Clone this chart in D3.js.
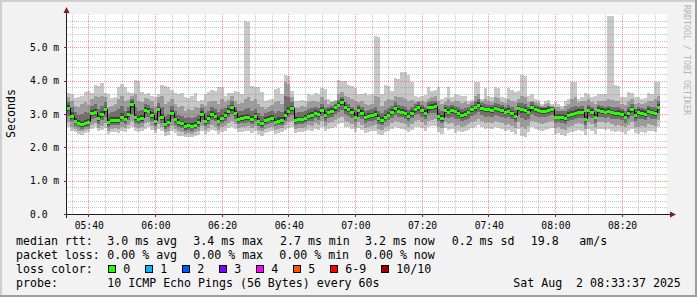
<!DOCTYPE html>
<html>
<head>
<meta charset="utf-8">
<script src="https://cdn.jsdelivr.net/npm/d3@7"></script>
<style>
  body { margin: 0; background: #f2f2f2; }
  svg { display: block; font-family: "DejaVu Sans Mono", monospace; }
  text { white-space: pre; }
</style>
</head>
<body>
<svg id="chart"></svg>
<script>
// one sample per minute, 10 pings each, sorted; ms
const rttMedian = [
  3.19,2.95,2.80,2.74,2.70,2.73,2.76,3.04,3.07,2.87, 3.00,3.15,2.75,2.82,2.82,2.82,2.92,2.85,2.99,3.30,
  2.90,2.85,2.88,3.12,3.10,2.97,2.79,3.14,2.90,2.69, 2.75,3.04,2.84,2.75,2.72,2.64,2.66,2.65,2.67,2.75,
  3.00,2.79,2.87,3.00,2.94,2.80,2.88,2.97,3.09,3.20, 3.04,2.85,2.88,2.90,2.90,2.85,2.94,2.80,2.72,2.82,
  2.86,2.89,2.77,2.80,2.82,2.97,3.10,3.17,2.82,2.84, 2.84,2.89,2.95,2.97,3.04,2.99,3.12,2.97,3.05,3.10,
  3.20,3.27,3.37,3.20,3.14,3.05,2.92,3.12,3.04,2.90, 2.94,2.96,2.99,2.87,2.82,2.92,2.98,3.07,3.17,3.10,
  3.07,3.04,2.94,3.04,3.14,3.20,3.12,3.04,3.20,3.22, 3.24,2.95,2.89,3.12,3.07,3.12,3.08,3.04,2.97,2.99,
  3.05,3.14,3.20,3.28,3.17,3.14,3.14,3.12,3.17,3.14, 3.12,3.07,3.10,3.02,2.94,3.17,3.14,3.12,3.07,3.20,
  3.14,3.12,3.10,3.10,3.12,3.14,2.92,2.92,2.92,2.89, 2.97,3.00,3.04,3.07,3.07,2.84,3.12,3.07,2.92,3.12,
  3.10,3.07,3.09,3.05,3.02,3.04,3.00,2.92,3.04,3.14, 2.97,3.07,3.04,3.00,3.09,3.05,3.02,3.22
];
const rttMax = [
  3.63,3.60,3.48,3.50,3.55,3.65,3.70,3.62,3.87,3.85, 3.93,3.63,3.60,3.48,3.50,3.82,3.90,3.80,3.65,3.62,
  4.02,4.00,3.65,3.60,3.62,3.55,3.50,3.60,3.87,3.85, 3.80,3.72,3.63,3.60,3.62,3.50,3.48,3.55,3.63,3.40,
  3.42,3.60,3.65,3.72,3.70,3.82,3.80,3.55,3.62,3.63, 3.70,3.65,3.60,5.80,5.75,3.85,3.82,3.80,3.65,3.40,
  3.42,3.45,3.75,3.77,3.60,4.17,4.15,3.70,3.40,3.38, 3.42,3.40,3.60,3.58,3.62,3.60,3.77,3.75,3.45,3.40,
  3.42,4.02,4.00,3.98,3.87,3.85,3.77,3.60,3.60,3.62, 3.58,3.60,5.34,5.30,3.60,3.87,3.85,3.70,4.07,4.05,
  4.27,4.25,4.17,3.97,3.53,3.50,3.55,3.58,3.80,3.70, 3.72,3.80,3.45,3.50,3.80,3.50,3.60,3.58,3.53,3.55,
  3.40,3.42,3.97,3.95,3.45,3.77,3.55,3.52,3.80,3.78, 3.50,3.48,3.77,3.72,3.65,3.70,4.17,4.15,3.55,3.60,
  3.45,3.42,3.30,3.40,3.42,3.30,3.35,3.30,3.25,3.40, 3.45,3.97,3.95,3.45,3.50,3.62,3.60,3.50,3.55,3.60,
  3.60,3.60,5.95,5.95,3.87,3.85,3.52,3.50,3.65,3.62, 3.52,3.50,3.45,3.48,3.62,3.60,3.97,3.95
];
const rttP9 = [
  3.50,3.40,3.25,3.22,3.30,3.35,3.28,3.45,3.55,3.50, 3.55,3.50,3.20,3.25,3.30,3.45,3.55,3.40,3.42,3.55,
  3.60,3.40,3.35,3.48,3.45,3.38,3.25,3.50,3.55,3.30, 3.35,3.45,3.30,3.20,3.25,3.10,3.15,3.12,3.20,3.18,
  3.30,3.25,3.35,3.40,3.38,3.30,3.45,3.35,3.42,3.55, 3.40,3.30,3.32,3.45,3.50,3.38,3.45,3.30,3.20,3.15,
  3.22,3.28,3.35,3.40,3.30,3.95,3.90,3.50,3.20,3.18, 3.25,3.22,3.35,3.38,3.40,3.35,3.50,3.42,3.30,3.35,
  3.38,3.60,3.65,3.55,3.50,3.45,3.40,3.35,3.38,3.30, 3.28,3.30,3.55,3.50,3.25,3.40,3.45,3.42,3.55,3.50,
  3.50,3.45,3.40,3.42,3.35,3.38,3.40,3.35,3.45,3.50, 3.55,3.40,3.30,3.35,3.45,3.35,3.40,3.38,3.32,3.35,
  3.30,3.35,3.55,3.60,3.40,3.45,3.38,3.35,3.50,3.48, 3.35,3.32,3.45,3.40,3.35,3.45,3.55,3.50,3.35,3.40,
  3.35,3.32,3.25,3.30,3.32,3.25,3.20,3.22,3.15,3.25, 3.30,3.45,3.50,3.35,3.38,3.40,3.45,3.35,3.30,3.40,
  3.38,3.40,3.45,3.42,3.40,3.38,3.30,3.28,3.40,3.45, 3.30,3.32,3.30,3.32,3.40,3.38,3.45,3.55
];
const rttP8 = [
  3.35,3.20,3.05,2.98,3.00,3.05,3.02,3.25,3.30,3.15, 3.25,3.35,3.00,3.05,3.08,3.15,3.25,3.10,3.20,3.45,
  3.20,3.10,3.12,3.30,3.28,3.18,3.02,3.32,3.20,2.95, 3.00,3.25,3.08,2.98,2.95,2.88,2.90,2.88,2.92,2.98,
  3.18,3.02,3.10,3.20,3.15,3.05,3.15,3.18,3.28,3.38, 3.22,3.08,3.10,3.15,3.18,3.08,3.15,3.02,2.95,3.02,
  3.05,3.10,3.02,3.08,3.05,3.55,3.50,3.35,3.02,3.05, 3.05,3.08,3.15,3.18,3.22,3.18,3.30,3.18,3.22,3.25,
  3.30,3.42,3.50,3.35,3.30,3.22,3.12,3.28,3.20,3.10, 3.12,3.15,3.20,3.08,3.02,3.12,3.18,3.25,3.35,3.28,
  3.25,3.22,3.12,3.22,3.30,3.35,3.28,3.22,3.35,3.38, 3.40,3.15,3.08,3.28,3.25,3.28,3.25,3.22,3.15,3.18,
  3.20,3.28,3.38,3.45,3.32,3.30,3.28,3.28,3.32,3.30, 3.28,3.22,3.28,3.20,3.12,3.32,3.32,3.30,3.22,3.35,
  3.28,3.25,3.20,3.22,3.25,3.22,3.10,3.10,3.08,3.08, 3.15,3.20,3.25,3.22,3.25,3.05,3.28,3.22,3.10,3.28,
  3.25,3.22,3.25,3.22,3.20,3.20,3.15,3.10,3.22,3.30, 3.15,3.20,3.18,3.15,3.25,3.22,3.20,3.40
];
const rttP7 = [
  3.26,3.05,2.88,2.82,2.78,2.82,2.84,3.12,3.16,2.96, 3.08,3.22,2.84,2.90,2.92,2.92,3.02,2.94,3.08,3.38,
  3.00,2.94,2.96,3.20,3.18,3.06,2.88,3.22,3.00,2.78, 2.84,3.12,2.92,2.84,2.80,2.72,2.74,2.72,2.76,2.84,
  3.08,2.88,2.96,3.08,3.02,2.90,2.98,3.06,3.18,3.28, 3.12,2.94,2.96,3.00,3.00,2.94,3.02,2.88,2.80,2.90,
  2.94,2.98,2.86,2.90,2.92,3.10,3.20,3.25,2.90,2.92, 2.92,2.96,3.04,3.06,3.12,3.08,3.20,3.06,3.14,3.18,
  3.28,3.35,3.45,3.28,3.22,3.14,3.02,3.20,3.12,2.98, 3.02,3.04,3.08,2.96,2.90,3.00,3.06,3.15,3.25,3.18,
  3.15,3.12,3.02,3.12,3.22,3.28,3.20,3.12,3.28,3.30, 3.32,3.04,2.98,3.20,3.15,3.20,3.16,3.12,3.06,3.08,
  3.12,3.22,3.28,3.36,3.25,3.22,3.22,3.20,3.25,3.22, 3.20,3.15,3.18,3.10,3.02,3.25,3.22,3.20,3.15,3.28,
  3.22,3.20,3.18,3.18,3.20,3.22,3.00,3.00,3.00,2.98, 3.06,3.08,3.12,3.15,3.15,2.94,3.20,3.15,3.00,3.20,
  3.18,3.15,3.17,3.13,3.10,3.12,3.08,3.00,3.12,3.22, 3.05,3.15,3.12,3.08,3.17,3.13,3.10,3.30
];
const rttP4 = [
  3.10,2.86,2.72,2.66,2.62,2.65,2.68,2.95,2.98,2.78, 2.92,3.05,2.66,2.74,2.74,2.74,2.84,2.76,2.90,3.18,
  2.82,2.76,2.80,3.02,3.02,2.88,2.70,3.05,2.82,2.62, 2.66,2.95,2.76,2.66,2.64,2.56,2.58,2.57,2.59,2.66,
  2.90,2.70,2.78,2.92,2.86,2.72,2.80,2.88,3.00,3.10, 2.95,2.76,2.80,2.82,2.82,2.76,2.86,2.72,2.64,2.74,
  2.78,2.80,2.70,2.72,2.74,2.88,3.00,3.08,2.74,2.76, 2.76,2.80,2.86,2.88,2.95,2.90,3.02,2.88,2.96,3.00,
  3.10,3.18,3.26,3.10,3.05,2.96,2.84,3.02,2.95,2.82, 2.86,2.88,2.90,2.78,2.74,2.84,2.90,2.98,3.08,3.02,
  2.98,2.95,2.86,2.95,3.05,3.10,3.02,2.95,3.10,3.12, 3.14,2.86,2.80,3.02,2.98,3.02,2.98,2.95,2.88,2.90,
  2.96,3.05,3.10,3.18,3.08,3.05,3.05,3.02,3.08,3.05, 3.02,2.98,3.00,2.94,2.85,3.08,3.04,3.02,2.98,3.10,
  3.05,3.02,3.00,3.00,3.02,3.05,2.84,2.84,2.82,2.80, 2.88,2.90,2.95,2.98,2.98,2.76,3.02,2.98,2.84,3.02,
  3.00,2.98,3.00,2.96,2.94,2.95,2.90,2.84,2.95,3.05, 2.88,2.98,2.95,2.90,3.00,2.96,2.94,3.12
];
const rttP3 = [
  2.95,2.78,2.65,2.60,2.56,2.60,2.62,2.85,2.88,2.70, 2.82,2.92,2.60,2.66,2.68,2.66,2.75,2.70,2.82,3.00,
  2.72,2.70,2.72,2.90,2.90,2.80,2.64,2.92,2.72,2.55, 2.60,2.84,2.68,2.60,2.58,2.50,2.52,2.50,2.54,2.60,
  2.82,2.64,2.70,2.82,2.78,2.65,2.72,2.80,2.90,3.00, 2.86,2.70,2.72,2.74,2.76,2.70,2.78,2.65,2.58,2.66,
  2.70,2.74,2.64,2.66,2.68,2.80,2.92,2.98,2.68,2.70, 2.70,2.74,2.80,2.80,2.88,2.82,2.95,2.80,2.88,2.92,
  3.00,3.05,3.12,3.00,2.95,2.88,2.76,2.92,2.86,2.74, 2.78,2.80,2.82,2.70,2.66,2.76,2.82,2.88,2.98,2.92,
  2.90,2.86,2.78,2.88,2.96,3.00,2.92,2.86,3.00,3.02, 3.04,2.78,2.72,2.92,2.88,2.92,2.85,2.86,2.80,2.82,
  2.86,2.95,3.00,3.06,2.98,2.92,2.95,2.92,2.98,2.95, 2.92,2.88,2.90,2.84,2.76,2.96,2.88,2.82,2.86,3.00,
  2.95,2.92,2.90,2.92,2.94,2.96,2.74,2.76,2.72,2.70, 2.78,2.82,2.86,2.88,2.88,2.68,2.92,2.88,2.74,2.92,
  2.92,2.88,2.90,2.86,2.84,2.86,2.82,2.74,2.86,2.95, 2.80,2.86,2.85,2.82,2.90,2.86,2.84,3.02
];
const rttP2 = [
  2.75,2.62,2.55,2.50,2.48,2.52,2.55,2.68,2.72,2.58, 2.65,2.72,2.50,2.55,2.58,2.55,2.62,2.58,2.68,2.80,
  2.60,2.58,2.62,2.72,2.75,2.65,2.52,2.70,2.60,2.45, 2.50,2.65,2.55,2.48,2.45,2.40,2.42,2.40,2.45,2.50,
  2.65,2.52,2.58,2.68,2.62,2.52,2.60,2.65,2.72,2.80, 2.70,2.58,2.60,2.62,2.65,2.58,2.65,2.52,2.48,2.55,
  2.58,2.62,2.52,2.55,2.58,2.68,2.75,2.80,2.55,2.58, 2.58,2.62,2.68,2.65,2.72,2.68,2.78,2.65,2.72,2.75,
  2.82,2.88,2.92,2.80,2.75,2.70,2.60,2.75,2.68,2.58, 2.62,2.65,2.68,2.55,2.52,2.60,2.65,2.72,2.80,2.75,
  2.72,2.70,2.62,2.70,2.78,2.82,2.75,2.68,2.80,2.82, 2.85,2.62,2.58,2.75,2.70,2.72,2.65,2.68,2.62,2.65,
  2.70,2.75,2.80,2.85,2.78,2.72,2.75,2.72,2.78,2.75, 2.72,2.68,2.70,2.65,2.58,2.75,2.60,2.55,2.65,2.80,
  2.75,2.72,2.70,2.72,2.75,2.78,2.58,2.60,2.55,2.52, 2.62,2.65,2.70,2.72,2.70,2.55,2.75,2.70,2.60,2.75,
  2.75,2.72,2.75,2.70,2.65,2.68,2.65,2.60,2.68,2.75, 2.62,2.60,2.65,2.62,2.70,2.68,2.65,2.82
];
const rttMin = [
  2.62,2.50,2.45,2.40,2.38,2.42,2.45,2.55,2.60,2.48, 2.52,2.58,2.40,2.45,2.47,2.42,2.50,2.45,2.55,2.62,
  2.48,2.45,2.50,2.55,2.60,2.52,2.42,2.55,2.48,2.35, 2.38,2.50,2.42,2.35,2.33,2.30,2.32,2.30,2.33,2.38,
  2.50,2.40,2.45,2.52,2.48,2.40,2.45,2.50,2.58,2.62, 2.55,2.45,2.45,2.48,2.50,2.42,2.48,2.40,2.35,2.42,
  2.45,2.48,2.40,2.42,2.45,2.52,2.58,2.60,2.42,2.45, 2.45,2.48,2.52,2.50,2.55,2.52,2.60,2.50,2.55,2.58,
  2.62,2.70,2.72,2.62,2.60,2.55,2.45,2.58,2.52,2.42, 2.45,2.48,2.50,2.40,2.38,2.45,2.48,2.55,2.62,2.58,
  2.55,2.52,2.45,2.52,2.60,2.62,2.58,2.50,2.62,2.65, 2.65,2.45,2.40,2.58,2.52,2.55,2.42,2.50,2.45,2.48,
  2.52,2.58,2.62,2.68,2.60,2.55,2.58,2.55,2.60,2.58, 2.55,2.50,2.52,2.45,2.40,2.55,2.35,2.30,2.45,2.60,
  2.55,2.52,2.50,2.52,2.55,2.58,2.40,2.42,2.38,2.35, 2.42,2.45,2.50,2.52,2.50,2.38,2.55,2.50,2.40,2.55,
  2.55,2.52,2.55,2.50,2.45,2.48,2.45,2.40,2.48,2.55, 2.42,2.40,2.45,2.42,2.50,2.48,2.45,2.60
];

const yTicks = [0, 1, 2, 3, 4, 5];
const yTickLabels = ["0.0", "1.0 m", "2.0 m", "3.0 m", "4.0 m", "5.0 m"];

const rttStats = ["3.0 ms avg", "3.4 ms max", "2.7 ms min", "3.2 ms now", "0.2 ms sd", "19.8", "am/s"];
const lossStats = ["0.00 % avg", "0.00 % max", "0.00 % min", "0.00 % now"];
const lossLabels = ["0", "1", "2", "3", "4", "5", "6-9", "10/10"];
const lossColors = ["#26ff00", "#00b8ff", "#0059ff", "#7e00ff", "#ff00ff", "#ff5500", "#ff0000", "#a10000"];
const probeText = "10 ICMP Echo Pings (56 Bytes) every 60s";
const stampText = "Sat Aug  2 08:33:37 2025";

const WIDTH = 697;
const HEIGHT = 297;
const PLOT = { left: 67, top: 14, right: 667, bottom: 214 };
const START = new Date(2025, 7, 2, 5, 33, 37);
const END = new Date(2025, 7, 2, 8, 33, 37);
const STEP = 60 * 1000;

const svg = d3.select("#chart").attr("width", WIDTH).attr("height", HEIGHT);

const X = d3.scaleTime().domain([START, END]).range([PLOT.left, PLOT.right]);
const Y = d3.scaleLinear().domain([0, 6]).range([PLOT.bottom, PLOT.top]);

const px = (i) => Math.round(X(new Date(START.getTime() + i * STEP)));
const py = (v) => Math.round(Y(v));

// dotted patterns for the grid (1px on, 1px off)
const defs = svg.append("defs");
function dotPattern(id, w, h, color) {
  const p = defs.append("pattern")
    .attr("id", id)
    .attr("patternUnits", "userSpaceOnUse")
    .attr("width", w)
    .attr("height", h);
  p.append("rect").attr("width", 1).attr("height", 1).attr("fill", color);
}
const MINOR = "rgba(128,128,128,0.45)";
const MAJOR = "rgba(222,79,79,0.6)";
dotPattern("minorH", 2, 1, MINOR);
dotPattern("minorV", 1, 2, MINOR);
dotPattern("majorH", 2, 1, MAJOR);
dotPattern("majorV", 1, 2, MAJOR);

// frame
svg.append("rect").attr("width", WIDTH).attr("height", HEIGHT).attr("fill", "#f2f2f2");
svg.append("rect").attr("width", WIDTH).attr("height", 2).attr("fill", "#cfcfcf");
svg.append("rect").attr("width", 2).attr("height", HEIGHT).attr("fill", "#cfcfcf");
svg.append("rect").attr("y", HEIGHT - 2).attr("width", WIDTH).attr("height", 2).attr("fill", "#9e9e9e");
svg.append("rect").attr("x", WIDTH - 2).attr("width", 2).attr("height", HEIGHT).attr("fill", "#9e9e9e");

svg.append("rect")
  .attr("x", PLOT.left)
  .attr("y", PLOT.top)
  .attr("width", PLOT.right - PLOT.left)
  .attr("height", PLOT.bottom - PLOT.top)
  .attr("fill", "#ffffff");

// smoke
const BANDS = [
  [rttMin, rttMax, "#c8c8c8"],
  [rttP2, rttP9, "#9c9c9c"],
  [rttP3, rttP8, "#6e6e6e"],
  [rttP4, rttP7, "#404040"],
];
const idx = d3.range(rttMedian.length);

BANDS.forEach(([lo, hi, col]) => {
  svg.append("g")
    .attr("shape-rendering", "crispEdges")
    .selectAll("rect")
    .data(idx)
    .join("rect")
    .attr("x", (i) => px(i))
    .attr("width", (i) => px(i + 1) - px(i))
    .attr("y", (i) => py(hi[i]))
    .attr("height", (i) => py(lo[i]) - py(hi[i]))
    .attr("fill", col);
});

// grid
const grid = svg.append("g").attr("shape-rendering", "crispEdges");
const minorY = d3.range(0.2, 6, 0.2).filter((v) => Math.abs(v - Math.round(v)) > 1e-6);
const minorX = d3.timeMinute.every(5).range(START, END).filter((d) => d.getMinutes() % 20 !== 0);
const majorX = d3.timeMinute.every(20).range(START, END);

function hLines(values, pat) {
  grid.append("g")
    .selectAll("rect")
    .data(values)
    .join("rect")
    .attr("x", PLOT.left)
    .attr("width", PLOT.right - PLOT.left)
    .attr("y", (d) => py(d))
    .attr("height", 1)
    .attr("fill", `url(#${pat})`);
}
function vLines(values, pat) {
  grid.append("g")
    .selectAll("rect")
    .data(values)
    .join("rect")
    .attr("x", (d) => Math.round(X(d)))
    .attr("width", 1)
    .attr("y", PLOT.top)
    .attr("height", PLOT.bottom - PLOT.top)
    .attr("fill", `url(#${pat})`);
}
hLines(minorY, "minorH");
vLines(minorX, "minorV");
hLines(yTicks.slice(1), "majorH");
vLines(majorX, "majorV");

// median line
const med = svg.append("g").attr("shape-rendering", "crispEdges");
med.selectAll("line")
  .data(idx.slice(1))
  .join("line")
  .attr("x1", (i) => px(i) + 0.5)
  .attr("x2", (i) => px(i) + 0.5)
  .attr("y1", (i) => py(rttMedian[i - 1]))
  .attr("y2", (i) => py(rttMedian[i]))
  .attr("stroke", "#000");
med.selectAll("rect")
  .data(idx)
  .join("rect")
  .attr("x", (i) => px(i))
  .attr("width", (i) => px(i + 1) - px(i))
  .attr("y", (i) => py(rttMedian[i]) - 1)
  .attr("height", 3)
  .attr("fill", lossColors[0]);

// axes
const AXIS = "#1f1f1f";
const ARROW = "#801f1f";
const axes = svg.append("g").attr("shape-rendering", "crispEdges");
axes.append("line")
  .attr("x1", PLOT.left - 3).attr("x2", PLOT.right + 5)
  .attr("y1", PLOT.bottom + 0.5).attr("y2", PLOT.bottom + 0.5)
  .attr("stroke", AXIS);
axes.append("line")
  .attr("x1", PLOT.left - 0.5).attr("x2", PLOT.left - 0.5)
  .attr("y1", PLOT.bottom + 4).attr("y2", PLOT.top - 3)
  .attr("stroke", AXIS);
axes.selectAll(".tx")
  .data(majorX)
  .join("line")
  .attr("x1", (d) => Math.round(X(d)) + 0.5)
  .attr("x2", (d) => Math.round(X(d)) + 0.5)
  .attr("y1", PLOT.bottom)
  .attr("y2", PLOT.bottom + 3)
  .attr("stroke", ARROW);
axes.selectAll(".ty")
  .data(yTicks)
  .join("line")
  .attr("x1", PLOT.left - 3)
  .attr("x2", PLOT.left)
  .attr("y1", (d) => py(d) + 0.5)
  .attr("y2", (d) => py(d) + 0.5)
  .attr("stroke", ARROW);

svg.append("path")
  .attr("d", `M${PLOT.left - 3.5},${PLOT.top - 1}L${PLOT.left + 2.5},${PLOT.top - 1}L${PLOT.left - 0.5},${PLOT.top - 7}Z`)
  .attr("fill", ARROW);
svg.append("path")
  .attr("d", `M${PLOT.right + 3},${PLOT.bottom - 2.5}L${PLOT.right + 3},${PLOT.bottom + 3.5}L${PLOT.right + 9},${PLOT.bottom + 0.5}Z`)
  .attr("fill", ARROW);

// tick labels
const fmt = d3.timeFormat("%H:%M");
svg.append("g")
  .selectAll("text")
  .data(majorX)
  .join("text")
  .attr("x", (d) => X(d) + 1)
  .attr("y", 228.5)
  .attr("text-anchor", "middle")
  .attr("font-size", "9.7px")
  .attr("fill", "#000")
  .text((d) => fmt(d));

svg.append("g")
  .selectAll("text")
  .data(yTicks)
  .join("text")
  .attr("x", 30)
  .attr("y", (d) => Y(d) + 3.5)
  .attr("font-size", "9.7px")
  .attr("fill", "#000")
  .text((d, i) => yTickLabels[i]);

svg.append("text")
  .attr("transform", "translate(15,113.5) rotate(-90)")
  .attr("text-anchor", "middle")
  .attr("font-size", "11.6px")
  .text("Seconds");

svg.append("text")
  .attr("transform", "translate(684,5) rotate(90)")
  .attr("font-size", "8.3px")
  .attr("fill", "#b4b4b4")
  .text("RRDTOOL / TOBI OETIKER");

// legend
const LEG_FONT = "11.6px";
const legend = svg.append("g").attr("font-size", LEG_FONT).attr("fill", "#000");
const rttX = [107.3, 193.3, 280, 365, 451.7, 530.7, 579.3];
const lossX = [107.3, 193.3, 279.3, 365];
const boxX = [108.5, 145.5, 182.5, 219.5, 256.5, 293.5, 330.5, 381.5];

legend.append("text").attr("x", 16).attr("y", 244.5).text("median rtt:");
rttStats.forEach((s, i) => legend.append("text").attr("x", rttX[i]).attr("y", 244.5).text(s));
legend.append("text").attr("x", 16).attr("y", 258.7).text("packet loss:");
lossStats.forEach((s, i) => legend.append("text").attr("x", lossX[i]).attr("y", 258.7).text(s));
legend.append("text").attr("x", 16).attr("y", 272.7).text("loss color:");

lossLabels.forEach((s, i) => {
  legend.append("rect")
    .attr("x", boxX[i]).attr("y", 265.5)
    .attr("width", 7).attr("height", 7)
    .attr("fill", lossColors[i])
    .attr("stroke", "#000")
    .attr("shape-rendering", "crispEdges");
  legend.append("text").attr("x", boxX[i] + 14.8).attr("y", 272.7).text(s);
});

legend.append("text").attr("x", 16).attr("y", 286.7).text("probe:");
legend.append("text").attr("x", 107.3).attr("y", 286.7).text(probeText);
legend.append("text").attr("x", 513.3).attr("y", 286.7).text(stampText);
</script>
</body>
</html>
